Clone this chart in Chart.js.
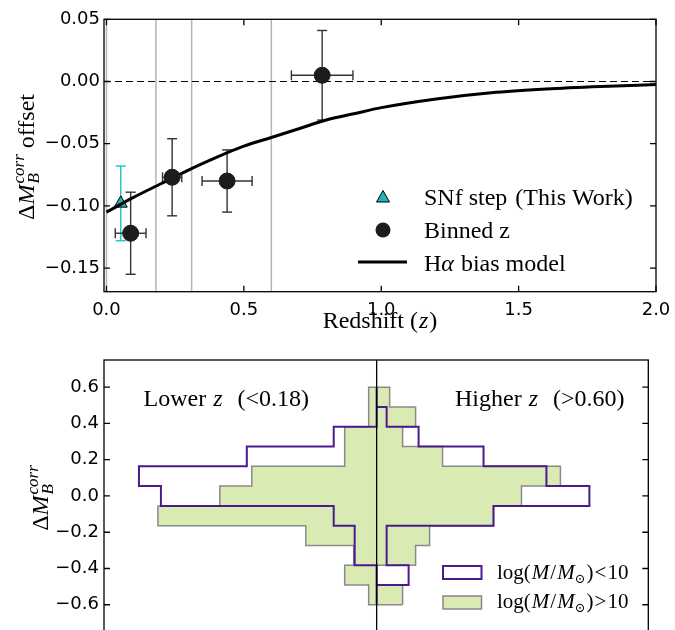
<!DOCTYPE html>
<html>
<head>
<meta charset="utf-8">
<script src="https://cdn.jsdelivr.net/npm/chart.js@4.4.1/dist/chart.umd.min.js"></script>
<style>
html, body { margin: 0; padding: 0; background: #fff; overflow: hidden; width: 675px; height: 630px; }
#top { position: absolute; left: 0; top: 0; width: 675px; height: 345px; }
#bot { position: absolute; left: 0; top: 340px; width: 675px; height: 320px; }
</style>
</head>
<body>
<div id="top"><canvas id="zChart"></canvas></div>
<div id="bot"><canvas id="histChart"></canvas></div>
<script>
// ---- top panel data ----
const binnedZ = [0.088, 0.239, 0.439, 0.785];
const binnedZErr = [0.056, 0.035, 0.091, 0.112];
const binnedOffset = [-0.122, -0.077, -0.080, 0.005];
const binnedOffsetErr = [0.033, 0.031, 0.025, 0.036];

const snfZ = [0.052];
const snfOffset = [-0.098];
const snfOffsetErr = [0.030];

const modelZ = [0, 0.1, 0.2, 0.3, 0.4, 0.5, 0.6, 0.7, 0.8, 0.9, 1.0, 1.2, 1.4, 1.6, 1.8, 2.0];
const modelOffset = [-0.105, -0.093, -0.082, -0.071, -0.061, -0.052, -0.045, -0.038, -0.031, -0.026, -0.021, -0.014, -0.009, -0.006, -0.004, -0.0025];

const zBinEdges = [0.0, 0.18, 0.31, 0.60];
const zTicks = [0, 0.5, 1.0, 1.5, 2.0];
const offsetTicks = [-0.15, -0.10, -0.05, 0, 0.05];

// ---- bottom panel data (bins from -0.6 up to 0.6) ----
const binEdges = [-0.6, -0.491, -0.382, -0.273, -0.164, -0.055, 0.055, 0.164, 0.273, 0.382, 0.491, 0.6];
const lowMassLowZ = [0, 0, 0.22, 0.22, 0.43, 2.16, 2.38, 1.30, 0.43, 0, 0];
const lowMassHighZ = [0, 0.32, 0.10, 0.10, 1.17, 2.13, 1.70, 1.07, 0.42, 0.10, 0];
const highMassLowZ = [0.08, 0.32, 0.23, 0.71, 2.19, 1.57, 1.25, 0.32, 0.32, 0.08, 0.08];
const highMassHighZ = [0.26, 0, 0.39, 0.53, 1.17, 1.45, 1.84, 0.66, 0.26, 0.39, 0.13];
const deltaTicks = [-0.6, -0.4, -0.2, 0, 0.2, 0.4, 0.6];

const SERIF = '"Liberation Serif", "DejaVu Serif", serif';
const SANS = '"DejaVu Sans", sans-serif';
const R = s => s + "px " + SERIF;
const I = s => "italic " + s + "px " + SERIF;
const PURPLE = "#4b1a8c";
const GREEN = "#d9ebb3";

function minus(s) { return s.replace("-", "\u2212"); }

function drawRich(ctx, parts, x, y, align) {
    let pos = 0, lastStart = 0, lastW = 0;
    const items = [];
    parts.forEach(function (p) {
        ctx.font = p.f;
        const w = ctx.measureText(p.t).width;
        if (p.stack) {
            items.push({ p: p, x: lastStart });
            lastW = Math.max(lastW, w);
            pos = lastStart + lastW;
        } else {
            items.push({ p: p, x: pos });
            lastStart = pos;
            lastW = w;
            pos += w + (p.gap || 0);
        }
    });
    const x0 = align === "center" ? x - pos / 2 : x;
    ctx.textAlign = "left";
    ctx.textBaseline = "alphabetic";
    ctx.fillStyle = "#000";
    items.forEach(function (it) {
        ctx.font = it.p.f;
        ctx.fillText(it.p.t, x0 + it.x, y + (it.p.dy || 0));
    });
}

function seg(ctx, x1, y1, x2, y2) {
    ctx.beginPath();
    ctx.moveTo(x1, y1);
    ctx.lineTo(x2, y2);
    ctx.stroke();
}

function drawFrame(chart, withXTicks) {
    const ctx = chart.ctx, a = chart.chartArea, x = chart.scales.x, y = chart.scales.y;
    const L = 6;
    ctx.save();
    ctx.strokeStyle = "#000";
    ctx.lineWidth = 1.3;
    ctx.strokeRect(a.left, a.top, a.right - a.left, a.bottom - a.top);
    ctx.beginPath();
    if (withXTicks) {
        x.ticks.forEach(function (t) {
            const px = x.getPixelForValue(t.value);
            ctx.moveTo(px, a.bottom); ctx.lineTo(px, a.bottom - L);
            ctx.moveTo(px, a.top); ctx.lineTo(px, a.top + L);
        });
    }
    y.ticks.forEach(function (t) {
        const py = y.getPixelForValue(t.value);
        ctx.moveTo(a.left, py); ctx.lineTo(a.left + L, py);
        ctx.moveTo(a.right, py); ctx.lineTo(a.right - L, py);
    });
    ctx.stroke();
    ctx.restore();
}

function yLabel(extra) {
    const parts = [
        { t: "\u0394", f: R(24) },
        { t: "M", f: I(24), gap: 1 },
        { t: "B", f: I(17), dy: 5 },
        { t: "corr", f: I(17), dy: -10, stack: true }
    ];
    if (extra) parts.push({ t: extra, f: R(24) });
    return parts;
}

const topDecor = {
    id: "topDecor",
    beforeDatasetsDraw(chart) {
        const ctx = chart.ctx, a = chart.chartArea, x = chart.scales.x, y = chart.scales.y;
        ctx.save();
        ctx.strokeStyle = "#b4b4b4";
        ctx.lineWidth = 1.5;
        zBinEdges.forEach(function (v) {
            const px = x.getPixelForValue(v);
            seg(ctx, px, a.top, px, a.bottom);
        });
        ctx.strokeStyle = "#000";
        ctx.lineWidth = 1.2;
        ctx.setLineDash([7, 4]);
        const py0 = y.getPixelForValue(0);
        seg(ctx, a.left, py0, a.right, py0);
        ctx.setLineDash([]);

        const cap = 5;
        ctx.lineWidth = 1.5;
        ctx.strokeStyle = "#2cc4c4";
        snfZ.forEach(function (z, i) {
            const px = x.getPixelForValue(z);
            const t = y.getPixelForValue(snfOffset[i] + snfOffsetErr[i]);
            const b = y.getPixelForValue(snfOffset[i] - snfOffsetErr[i]);
            seg(ctx, px, t, px, b);
            seg(ctx, px - cap, t, px + cap, t);
            seg(ctx, px - cap, b, px + cap, b);
        });
        ctx.strokeStyle = "#333";
        ctx.lineWidth = 1.4;
        binnedZ.forEach(function (z, i) {
            const px = x.getPixelForValue(z), py = y.getPixelForValue(binnedOffset[i]);
            const t = y.getPixelForValue(binnedOffset[i] + binnedOffsetErr[i]);
            const b = y.getPixelForValue(binnedOffset[i] - binnedOffsetErr[i]);
            const l = x.getPixelForValue(z - binnedZErr[i]);
            const r = x.getPixelForValue(z + binnedZErr[i]);
            seg(ctx, px, t, px, b);
            seg(ctx, px - cap, t, px + cap, t);
            seg(ctx, px - cap, b, px + cap, b);
            seg(ctx, l, py, r, py);
            seg(ctx, l, py - cap, l, py + cap);
            seg(ctx, r, py - cap, r, py + cap);
        });
        ctx.restore();
    },
    afterDatasetsDraw(chart) {
        const ctx = chart.ctx;
        drawFrame(chart, true);
        ctx.save();
        // x title
        drawRich(ctx, [
            { t: "Redshift (", f: R(24), gap: 1 },
            { t: "z", f: I(24), gap: 1 },
            { t: ")", f: R(24) }
        ], 380, 328, "center");
        // y title
        ctx.save();
        ctx.translate(33.5, 157);
        ctx.rotate(-Math.PI / 2);
        drawRich(ctx, yLabel(" offset"), 0, 0, "center");
        ctx.restore();
        // legend
        const mx = 383;
        ctx.fillStyle = "#22b3b3";
        ctx.strokeStyle = "#000";
        ctx.lineWidth = 1;
        ctx.beginPath();
        ctx.moveTo(mx, 190.5);
        ctx.lineTo(mx + 6.5, 202);
        ctx.lineTo(mx - 6.5, 202);
        ctx.closePath();
        ctx.fill();
        ctx.stroke();
        ctx.fillStyle = "#1c1c1c";
        ctx.beginPath();
        ctx.arc(mx, 230, 7.5, 0, Math.PI * 2);
        ctx.fill();
        ctx.lineWidth = 3;
        seg(ctx, 358, 262, 407, 262);
        drawRich(ctx, [
            { t: "SNf step", f: R(24), gap: 2 },
            { t: " (This Work)", f: R(24) }
        ], 424, 205, "left");
        drawRich(ctx, [{ t: "Binned z", f: R(24) }], 424, 237.5, "left");
        drawRich(ctx, [
            { t: "H", f: R(24) },
            { t: "\u03b1", f: I(24), gap: 1 },
            { t: " bias model", f: R(24) }
        ], 424, 270.5, "left");
        ctx.restore();
    }
};

new Chart(document.getElementById("zChart"), {
    type: "scatter",
    data: {
        datasets: [
            {
                label: "Binned z",
                data: binnedZ.map(function (z, i) { return { x: z, y: binnedOffset[i] }; }),
                pointRadius: 8,
                backgroundColor: "#1c1c1c",
                borderColor: "#1c1c1c",
                borderWidth: 1
            },
            {
                label: "H\u03b1 bias model",
                type: "line",
                data: modelZ.map(function (z, i) { return { x: z, y: modelOffset[i] }; }),
                borderColor: "#000",
                borderWidth: 3,
                pointRadius: 0,
                cubicInterpolationMode: "monotone",
                fill: false
            },
            {
                label: "SNf step (This Work)",
                data: snfZ.map(function (z, i) { return { x: z, y: snfOffset[i] }; }),
                pointStyle: "triangle",
                pointRadius: 7.5,
                backgroundColor: "#22b3b3",
                borderColor: "#000",
                borderWidth: 1
            }
        ]
    },
    options: {
        responsive: true,
        maintainAspectRatio: false,
        animation: false,
        layout: { padding: { top: 19.3, right: 19, left: 0, bottom: 0 } },
        plugins: { legend: { display: false }, tooltip: { enabled: false } },
        scales: {
            x: {
                type: "linear",
                min: -0.009,
                max: 2.0,
                grid: { display: false, drawTicks: false },
                border: { display: false },
                afterBuildTicks: function (s) { s.ticks = zTicks.map(function (v) { return { value: v }; }); },
                afterFit: function (s) { s.height = 53.3; s.paddingLeft = 0; s.paddingRight = 0; },
                ticks: {
                    padding: 8,
                    maxRotation: 0,
                    color: "#000",
                    font: { family: SANS, size: 18 },
                    callback: function (v) { return v.toFixed(1); }
                }
            },
            y: {
                type: "linear",
                min: -0.169,
                max: 0.05,
                grid: { display: false, drawTicks: false },
                border: { display: false },
                afterBuildTicks: function (s) { s.ticks = offsetTicks.map(function (v) { return { value: v }; }); },
                afterFit: function (s) { s.width = 104; s.paddingTop = 0; s.paddingBottom = 0; },
                ticks: {
                    padding: 4,
                    color: "#000",
                    font: { family: SANS, size: 18 },
                    callback: function (v) { return minus(Math.abs(v) < 1e-9 ? "0.00" : v.toFixed(2)); }
                }
            }
        }
    },
    plugins: [topDecor]
});

// ---- bottom panel ----
function mirroredOutline(leftVals, rightVals) {
    const pts = [];
    rightVals.forEach(function (v, i) {
        pts.push({ x: v, y: binEdges[i] }, { x: v, y: binEdges[i + 1] });
    });
    for (let i = leftVals.length - 1; i >= 0; i--) {
        pts.push({ x: -leftVals[i], y: binEdges[i + 1] }, { x: -leftVals[i], y: binEdges[i] });
    }
    pts.push({ x: pts[0].x, y: pts[0].y });
    return pts;
}

const histDecor = {
    id: "histDecor",
    afterDatasetsDraw(chart) {
        const ctx = chart.ctx, a = chart.chartArea, x = chart.scales.x;
        ctx.save();
        ctx.strokeStyle = "#000";
        ctx.lineWidth = 1.3;
        const cx = x.getPixelForValue(0);
        seg(ctx, cx, a.top, cx, a.bottom);
        ctx.restore();
        drawFrame(chart, false);
        ctx.save();
        // the canvas starts 340px below the page top
        drawRich(ctx, [
            { t: "Lower ", f: R(24), gap: 1 },
            { t: "z", f: I(24), gap: 9 },
            { t: " (<0.18)", f: R(24) }
        ], 143.5, 66, "left");
        drawRich(ctx, [
            { t: "Higher ", f: R(24), gap: 1 },
            { t: "z", f: I(24), gap: 9 },
            { t: " (>0.60)", f: R(24) }
        ], 455, 66, "left");
        ctx.save();
        ctx.translate(48, 158);
        ctx.rotate(-Math.PI / 2);
        drawRich(ctx, yLabel(""), 0, 0, "center");
        ctx.restore();
        // legend
        ctx.fillStyle = "#fff";
        ctx.strokeStyle = PURPLE;
        ctx.lineWidth = 2;
        ctx.fillRect(443, 226, 38.5, 13);
        ctx.strokeRect(443, 226, 38.5, 13);
        ctx.fillStyle = GREEN;
        ctx.strokeStyle = "#888";
        ctx.lineWidth = 1.5;
        ctx.fillRect(443, 256, 38.5, 13);
        ctx.strokeRect(443, 256, 38.5, 13);
        const legendText = function (op) {
            return [
                { t: "log(", f: R(21), gap: 1 },
                { t: "M", f: I(21), gap: 1 },
                { t: "/", f: R(21), gap: 1 },
                { t: "M", f: I(21) },
                { t: "\u2299", f: R(13), dy: 4, gap: 1 },
                { t: ")", f: R(21), gap: 1 },
                { t: op, f: R(21), gap: 1 },
                { t: "10", f: R(21) }
            ];
        };
        drawRich(ctx, legendText("<"), 497, 238.5, "left");
        drawRich(ctx, legendText(">"), 497, 268, "left");
        ctx.restore();
    }
};

new Chart(document.getElementById("histChart"), {
    type: "line",
    data: {
        datasets: [
            {
                label: "log(M/M\u2299)<10",
                data: mirroredOutline(lowMassLowZ, lowMassHighZ),
                borderColor: PURPLE,
                borderWidth: 2,
                pointRadius: 0,
                tension: 0,
                fill: false,
                borderJoinStyle: "miter"
            },
            {
                label: "log(M/M\u2299)>10",
                data: mirroredOutline(highMassLowZ, highMassHighZ),
                borderColor: "#8a8a8a",
                backgroundColor: GREEN,
                borderWidth: 1.5,
                pointRadius: 0,
                tension: 0,
                fill: "shape",
                borderJoinStyle: "miter"
            }
        ]
    },
    options: {
        indexAxis: "y",
        responsive: true,
        maintainAspectRatio: false,
        animation: false,
        layout: { padding: { top: 20, right: 26.7, left: 0, bottom: 19 } },
        plugins: { legend: { display: false }, tooltip: { enabled: false } },
        scales: {
            x: { type: "linear", display: false, min: -2.73, max: 2.72 },
            y: {
                type: "linear",
                min: -0.8,
                max: 0.75,
                grid: { display: false, drawTicks: false },
                border: { display: false },
                afterBuildTicks: function (s) { s.ticks = deltaTicks.map(function (v) { return { value: v }; }); },
                afterFit: function (s) { s.width = 104; },
                ticks: {
                    padding: 5,
                    color: "#000",
                    font: { family: SANS, size: 18 },
                    callback: function (v) { return minus(Math.abs(v) < 1e-9 ? "0.0" : v.toFixed(1)); }
                }
            }
        }
    },
    plugins: [histDecor]
});
</script>
</body>
</html>
